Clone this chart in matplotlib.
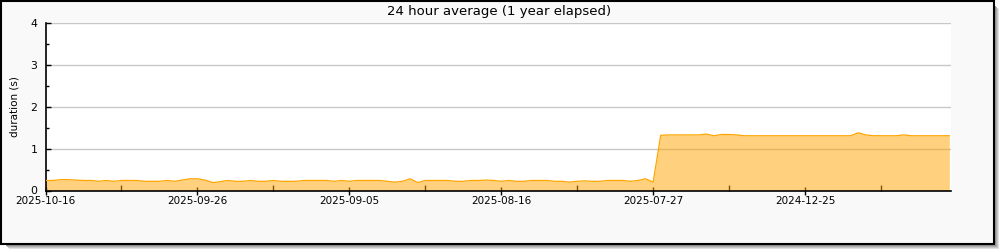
import matplotlib.pyplot as plt
from matplotlib.patches import Rectangle

# one value per day, oldest at the left as the chart labels it
durations = [
    0.24, 0.24, 0.26, 0.26, 0.25, 0.24, 0.24, 0.22, 0.24, 0.22,
    0.24, 0.24, 0.24, 0.22, 0.22, 0.22, 0.24, 0.22, 0.25, 0.28,
    0.28, 0.25, 0.19, 0.21, 0.24, 0.22, 0.22, 0.24, 0.22, 0.22,
    0.24, 0.22, 0.22, 0.22, 0.24, 0.24, 0.24, 0.24, 0.22, 0.24,
    0.22, 0.24, 0.24, 0.24, 0.24, 0.22, 0.20, 0.22, 0.28, 0.19,
    0.24, 0.24, 0.24, 0.24, 0.22, 0.22, 0.24, 0.24, 0.25, 0.24,
    0.22, 0.24, 0.22, 0.22, 0.24, 0.24, 0.24, 0.22, 0.22, 0.20,
    0.22, 0.23, 0.22, 0.22, 0.24, 0.24, 0.24, 0.22, 0.24, 0.28,
    0.20, 1.32, 1.33, 1.33, 1.33, 1.33, 1.33, 1.35, 1.31, 1.34,
    1.34, 1.33, 1.31, 1.31, 1.31, 1.31, 1.31, 1.31, 1.31, 1.31,
    1.31, 1.31, 1.31, 1.31, 1.31, 1.31, 1.31, 1.38, 1.33, 1.31,
    1.31, 1.31, 1.31, 1.33, 1.31, 1.31, 1.31, 1.31, 1.31, 1.31,
]
days = list(range(len(durations)))
tick_days = [0, 20, 40, 60, 80, 100]
tick_labels = ['2025-10-16', '2025-09-26', '2025-09-05', '2025-08-16', '2025-07-27', '2024-12-25']

plt.rcParams['font.family'] = 'DejaVu Sans'
fig = plt.figure(figsize=(10, 2.5), dpi=100, facecolor='white')

# shadow + framed panel
W, H = 1000.0, 250.0
def box(x0, y0, x1, y1, **kw):
    fig.patches.append(Rectangle((x0 / W, 1 - y1 / H), (x1 - x0) / W, (y1 - y0) / H,
                                 transform=fig.transFigure, **kw))
shades = ['#7a7a7a', '#939393', '#adadad', '#c6c6c6', '#e0e0e0']
for i in range(len(shades) - 1, -1, -1):
    box(5 + i, 5 + i, 995 + i, 245 + i, facecolor=shades[i], edgecolor='none', zorder=-3 - i * 0.01)
box(0.5, 0.5, 993.5, 243.5, facecolor='#f9f9f9', edgecolor='black', linewidth=1.5, zorder=-2)

ax = fig.add_axes([45.5 / W, 1 - 190.5 / H, 905 / W, 167.2 / H])
ax.set_facecolor('white')
ax.fill_between(days, durations, 0, color='#ffa500', alpha=0.5, linewidth=0, zorder=2)
ax.plot(days, durations, color='#ffa500', linewidth=0.9, zorder=3)

ax.set_xlim(0, 119.15)
ax.set_ylim(0, 4)
ax.set_yticks([0, 1, 2, 3, 4])
ax.set_yticks([0.5, 1.5, 2.5, 3.5], minor=True)
ax.set_xticks(tick_days)
ax.set_xticklabels(tick_labels)
ax.set_xticks([10, 30, 50, 70, 90, 110], minor=True)
ax.grid(axis='y', color='#c8c8c8', linewidth=1, zorder=1)
ax.set_axisbelow(True)

for s in ['top', 'right']:
    ax.spines[s].set_visible(False)
for s in ['left', 'bottom']:
    ax.spines[s].set_linewidth(1.2)

ax.tick_params(axis='y', which='major', direction='in', length=3.6, width=1, labelsize=7.8, pad=6)
ax.tick_params(axis='y', which='minor', direction='in', length=2.3, width=1)
ax.tick_params(axis='x', which='major', direction='inout', length=6, width=1, labelsize=7.5, pad=1)
ax.tick_params(axis='x', which='minor', direction='in', length=4.3, width=1)

ax.set_ylabel('duration (s)', fontsize=7.5, labelpad=8)
fig.text(0.499, 0.955, '24 hour average (1 year elapsed)', ha='center', va='center', fontsize=9.5)

fig.savefig('out.png', dpi=100, facecolor='white')
